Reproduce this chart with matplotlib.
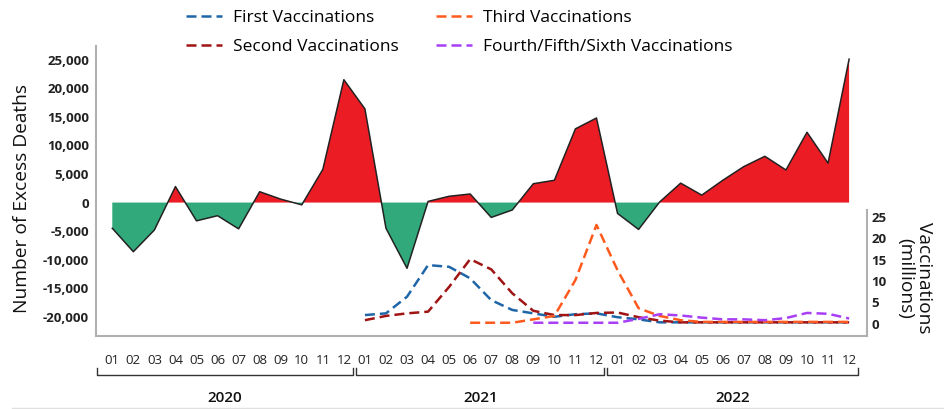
import numpy as np
import matplotlib
matplotlib.use('Agg')
import matplotlib.pyplot as plt
from matplotlib.transforms import ScaledTranslation

plt.rcParams['font.family'] = ['Open Sans', 'DejaVu Sans']

months = ['01', '02', '03', '04', '05', '06', '07', '08', '09', '10', '11', '12'] * 3
years = ['2020', '2021', '2022']

# monthly excess deaths, 2020-01 .. 2022-12
excess_deaths = [-4500, -8600, -4800, 2800, -3200, -2300, -4600, 1900, 600, -400, 5800, 21500,
                 16400, -4500, -11500, 200, 1100, 1500, -2600, -1300, 3300, 3900, 12900, 14800,
                 -1900, -4700, 100, 3400, 1300, 3900, 6300, 8100, 5700, 12300, 6900, 25100]

# vaccinations in millions, None = not yet started
first_vacc = [None] * 12 + [2.0, 2.4, 6.3, 13.7, 13.3, 10.6, 5.5, 3.2, 2.4, 1.6, 2.2, 2.4,
                            1.5, 1.0, 0.3, 0.3, 0.3, 0.3, 0.3, 0.3, 0.3, 0.3, 0.3, 0.3]
second_vacc = [None] * 12 + [0.8, 1.8, 2.4, 2.8, 8.6, 15.1, 12.7, 7.1, 3.0, 2.0, 2.0, 2.5,
                             2.6, 1.5, 0.7, 0.3, 0.3, 0.3, 0.3, 0.3, 0.3, 0.3, 0.3, 0.3]
third_vacc = [None] * 17 + [0.2, 0.2, 0.2, 1.0, 1.8, 10.2, 23.1,
                            12.5, 3.6, 1.8, 0.8, 0.4, 0.4, 0.4, 0.4, 0.4, 0.4, 0.4, 0.4]
later_vacc = [None] * 20 + [0.2, 0.2, 0.2, 0.2,
                            0.2, 1.1, 2.2, 1.9, 1.4, 1.0, 1.0, 0.8, 1.3, 2.5, 2.3, 1.2]

vacc_series = [
    ('First Vaccinations', first_vacc, '#1f66a8'),
    ('Second Vaccinations', second_vacc, '#a01414'),
    ('Third Vaccinations', third_vacc, '#ff5a1e'),
    ('Fourth/Fifth/Sixth Vaccinations', later_vacc, '#a83ff5'),
]

W, H = 945, 409
fig = plt.figure(figsize=(W / 100, H / 100), dpi=100)

x = np.arange(len(excess_deaths))
deaths = np.array(excess_deaths, dtype=float)

# main axes (excess deaths)
ax = fig.add_axes([96 / W, 1 - 335.7 / H, 771 / W, 289.7 / H])
ax.fill_between(x, 0, deaths, where=deaths >= 0, interpolate=True,
                color='#ec1c24', linewidth=0)
ax.fill_between(x, 0, deaths, where=deaths <= 0, interpolate=True,
                color='#31a97b', linewidth=0)
ax.plot(x, deaths, color='#222222', lw=1.1)
ax.set_xlim(-0.774, 35.85)
ax.set_ylim(-23300, 27400)
ax.set_yticks(np.arange(-20000, 25001, 5000))
ax.set_yticklabels([f'{v:,}' for v in range(-20000, 25001, 5000)],
                   fontweight='bold', fontsize=9.5, color='#222222')
for lbl in ax.get_yticklabels():
    lbl.set_transform(lbl.get_transform() + ScaledTranslation(0, -0.03, fig.dpi_scale_trans))
ax.set_xticks(x)
ax.set_xticklabels(months, fontsize=9.5, color='#222222')
ax.tick_params(axis='both', length=0)
ax.tick_params(axis='y', pad=5)
ax.tick_params(axis='x', pad=13)
for s in ['top', 'right']:
    ax.spines[s].set_visible(False)
for s in ['left', 'bottom']:
    ax.spines[s].set_color('#b0b0b0')
    ax.spines[s].set_linewidth(1.5)
ax.set_ylabel('Number of Excess Deaths', fontsize=13.8, color='#111111')
ax.yaxis.set_label_coords(-0.084, 0.475)

# year brackets under the month labels
trans = ax.get_xaxis_transform()
spans = [(-0.72, 11.42), (11.6, 23.38), (23.52, 35.4)]
for (a, b), yr in zip(spans, years):
    ax.plot([a, a, b, b], [-0.112, -0.136, -0.136, -0.112], color='#333333',
            lw=1, transform=trans, clip_on=False)
    ax.text((a + b) / 2, -0.215, yr, transform=trans, ha='center', va='center',
            fontsize=11, fontweight='semibold', color='#111111')

# vaccination axes on the lower right
ax2 = fig.add_axes([96 / W, 1 - 336 / H, 771 / W, 126 / H])
ax2.patch.set_visible(False)
handles = []
for name, vals, col in vacc_series:
    v = np.array([np.nan if val is None else val for val in vals], dtype=float)
    h, = ax2.plot(x, v, color=col, lw=1.8, linestyle=(0, (4, 2)), label=name)
    handles.append(h)
ax2.set_xlim(ax.get_xlim())
ax2.set_ylim(-2.9, 26.6)
ax2.set_xticks([])
ax2.yaxis.tick_right()
ax2.set_yticks([0, 5, 10, 15, 20, 25])
ax2.set_yticklabels(['0', '5', '10', '15', '20', '25'], fontweight='bold',
                    fontsize=9.5, color='#222222')
for lbl in ax2.get_yticklabels():
    lbl.set_transform(lbl.get_transform() + ScaledTranslation(0, -0.03, fig.dpi_scale_trans))
ax2.tick_params(axis='y', length=0, pad=3)
for s in ['top', 'left', 'bottom']:
    ax2.spines[s].set_visible(False)
ax2.spines['right'].set_color('#b0b0b0')
ax2.spines['right'].set_linewidth(1.5)
fig.text(915 / W, 1 - 278 / H, 'Vaccinations\n(millions)', rotation=-90,
         ha='center', va='center', fontsize=13.8, color='#111111',
         multialignment='center', linespacing=1.05)

fig.legend(handles=handles, ncol=2, frameon=False, loc='center',
           bbox_to_anchor=(0.486, 1 - 32.5 / H), fontsize=12.5,
           handlelength=2.07, handletextpad=0.65, columnspacing=2.1,
           labelspacing=0.75)

fig.add_artist(plt.Line2D([0.013, 1], [0.003, 0.003], color='#e0e0e0', lw=1,
                          transform=fig.transFigure))

fig.savefig('out.png', dpi=100)
